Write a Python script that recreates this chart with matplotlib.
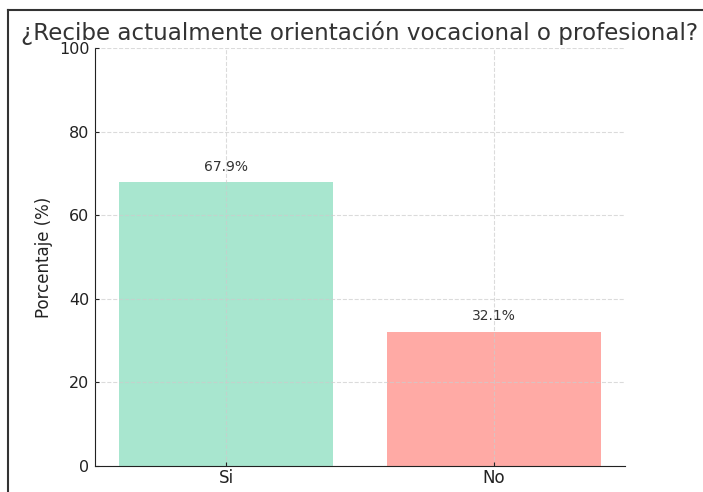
import matplotlib

matplotlib.use("Agg")
import matplotlib.pyplot as plt
from matplotlib.lines import Line2D

categorias = ["Si", "No"]
porcentajes = [67.9, 32.1]
colores = ["#a8e6cf", "#ffaaa5"]

fig = plt.figure(figsize=(7.03, 4.92), dpi=100)
ax = fig.add_axes([0.135, 0.053, 0.754, 0.849])

barras = ax.bar(categorias, porcentajes, color=colores, width=0.8)
for b, v in zip(barras, porcentajes):
    ax.text(b.get_x() + b.get_width() / 2, v + 2, f"{v}%",
            ha="center", va="bottom", fontsize=10, color="#333333")

ax.set_ylim(0, 100)
ax.set_title("¿Recibe actualmente orientación vocacional o profesional?",
             fontsize=16.6, color="#333333", pad=6)
ax.set_ylabel("Porcentaje (%)", fontsize=12, color="#222222")
ax.tick_params(axis="both", direction="in", length=3, colors="#222222")
ax.tick_params(axis="x", labelsize=12, pad=2.5)
ax.tick_params(axis="y", labelsize=11.5, pad=4)
ax.grid(True, linestyle="--", color="#cccccc", alpha=0.7, linewidth=0.8)
ax.set_axisbelow(False)
ax.spines["top"].set_visible(False)
ax.spines["right"].set_visible(False)
ax.spines["left"].set_color("#222222")
ax.spines["bottom"].set_color("#222222")

# marco de la captura
w, h = 703, 492
fig.add_artist(Line2D([8 / w, 1], [1 - 10 / h, 1 - 10 / h], color="#333333", lw=1.5))
fig.add_artist(Line2D([8 / w, 8 / w], [0, 1 - 10 / h], color="#333333", lw=1.5))

fig.savefig("out.png", dpi=100)
plt.close(fig)
